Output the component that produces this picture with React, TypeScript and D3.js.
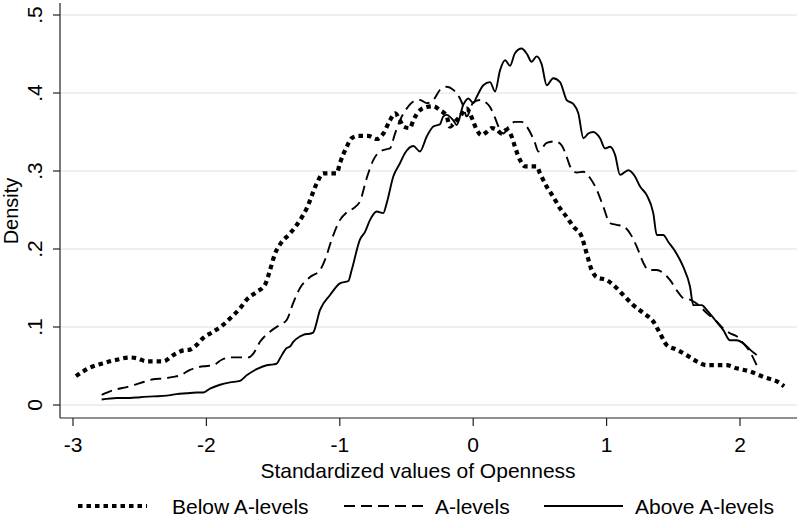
import React from "react";
import * as d3 from "d3";

// ---- data (standardized Openness value, density) ----
const belowX = [-2.978,-2.873,-2.785,-2.672,-2.573,-2.522,-2.448,-2.373,-2.323,-2.248,-2.173,-2.123,-2.073,-2.023,-1.948,-1.873,-1.823,-1.748,-1.698,-1.623,-1.561,-1.523,-1.486,-1.448,-1.373,-1.298,-1.248,-1.173,-1.124,-1.073,-1.023,-0.999,-0.948,-0.911,-0.861,-0.786,-0.723,-0.674,-0.624,-0.586,-0.549,-0.524,-0.474,-0.449,-0.399,-0.349,-0.299,-0.249,-0.199,-0.174,-0.136,-0.099,-0.049,-0.024,0.001,0.026,0.064,0.101,0.139,0.176,0.214,0.251,0.289,0.313,0.351,0.388,0.438,0.476,0.501,0.551,0.600,0.651,0.701,0.750,0.813,0.851,0.888,0.926,1.001,1.050,1.125,1.200,1.275,1.350,1.400,1.450,1.525,1.600,1.675,1.750,1.825,1.900,1.975,2.075,2.175,2.300,2.330];
const belowY = [0.037,0.048,0.053,0.058,0.061,0.060,0.056,0.056,0.056,0.064,0.070,0.071,0.077,0.086,0.094,0.103,0.111,0.124,0.135,0.145,0.154,0.173,0.194,0.206,0.220,0.237,0.252,0.284,0.297,0.297,0.297,0.310,0.331,0.342,0.345,0.345,0.341,0.348,0.365,0.374,0.365,0.357,0.355,0.365,0.378,0.382,0.383,0.378,0.370,0.357,0.363,0.370,0.380,0.374,0.363,0.353,0.346,0.350,0.355,0.353,0.348,0.353,0.344,0.331,0.314,0.306,0.306,0.306,0.297,0.280,0.267,0.252,0.241,0.229,0.216,0.194,0.173,0.164,0.160,0.154,0.141,0.128,0.118,0.107,0.092,0.077,0.071,0.064,0.056,0.051,0.051,0.051,0.047,0.043,0.036,0.028,0.024];

const aX = [-2.785,-2.698,-2.597,-2.498,-2.398,-2.323,-2.248,-2.198,-2.123,-2.073,-1.998,-1.948,-1.885,-1.823,-1.748,-1.686,-1.648,-1.598,-1.523,-1.448,-1.398,-1.349,-1.298,-1.223,-1.148,-1.111,-1.061,-0.999,-0.948,-0.899,-0.849,-0.798,-0.749,-0.699,-0.648,-0.624,-0.586,-0.549,-0.499,-0.449,-0.399,-0.349,-0.299,-0.249,-0.199,-0.149,-0.099,-0.074,-0.049,0.001,0.051,0.101,0.126,0.164,0.189,0.226,0.264,0.313,0.363,0.401,0.426,0.463,0.488,0.514,0.551,0.613,0.663,0.701,0.726,0.776,0.826,0.876,0.926,0.976,1.026,1.076,1.126,1.176,1.226,1.276,1.313,1.376,1.426,1.476,1.526,1.575,1.625,1.675,1.750,1.825,1.875,1.925,1.975,2.025,2.075,2.125];
const aY = [0.013,0.019,0.023,0.028,0.033,0.034,0.036,0.038,0.045,0.048,0.050,0.051,0.058,0.061,0.061,0.061,0.066,0.081,0.094,0.103,0.109,0.131,0.150,0.164,0.173,0.186,0.212,0.237,0.247,0.252,0.261,0.291,0.314,0.325,0.328,0.329,0.348,0.365,0.380,0.389,0.391,0.387,0.391,0.404,0.408,0.404,0.393,0.383,0.370,0.388,0.391,0.387,0.382,0.368,0.357,0.348,0.357,0.363,0.363,0.357,0.350,0.336,0.325,0.329,0.336,0.338,0.333,0.318,0.306,0.298,0.299,0.291,0.276,0.254,0.233,0.231,0.229,0.220,0.203,0.182,0.173,0.173,0.169,0.160,0.147,0.137,0.135,0.130,0.118,0.107,0.098,0.092,0.088,0.079,0.068,0.051];

const aboveX = [-2.785,-2.672,-2.573,-2.498,-2.398,-2.298,-2.223,-2.148,-2.073,-2.023,-1.973,-1.898,-1.823,-1.748,-1.698,-1.623,-1.548,-1.498,-1.473,-1.448,-1.398,-1.373,-1.349,-1.298,-1.274,-1.211,-1.199,-1.148,-1.073,-0.999,-0.936,-0.911,-0.849,-0.811,-0.774,-0.723,-0.674,-0.648,-0.599,-0.549,-0.511,-0.449,-0.399,-0.349,-0.299,-0.249,-0.224,-0.199,-0.149,-0.124,-0.074,-0.036,0.001,0.026,0.076,0.126,0.164,0.201,0.239,0.276,0.313,0.363,0.403,0.438,0.476,0.513,0.551,0.600,0.651,0.701,0.750,0.788,0.826,0.863,0.900,0.951,0.988,1.026,1.063,1.101,1.163,1.213,1.251,1.301,1.350,1.376,1.425,1.463,1.525,1.575,1.625,1.650,1.713,1.750,1.813,1.875,1.925,1.975,2.025,2.075,2.125];
const aboveY = [0.007,0.009,0.009,0.010,0.011,0.012,0.014,0.015,0.016,0.016,0.021,0.026,0.029,0.031,0.038,0.046,0.051,0.052,0.053,0.060,0.073,0.075,0.081,0.088,0.090,0.092,0.093,0.122,0.141,0.156,0.159,0.173,0.212,0.222,0.237,0.248,0.246,0.259,0.293,0.310,0.323,0.332,0.325,0.344,0.357,0.360,0.370,0.372,0.365,0.359,0.385,0.393,0.387,0.395,0.410,0.414,0.402,0.429,0.442,0.435,0.451,0.457,0.450,0.440,0.447,0.437,0.410,0.419,0.414,0.391,0.386,0.374,0.342,0.348,0.350,0.342,0.329,0.331,0.321,0.295,0.301,0.293,0.280,0.269,0.246,0.218,0.218,0.209,0.194,0.177,0.152,0.128,0.128,0.122,0.109,0.096,0.083,0.083,0.079,0.071,0.064];

const xTicks = [-3, -2, -1, 0, 1, 2];
const yTicks = [0, 0.1, 0.2, 0.3, 0.4, 0.5];
const yTickLabels = ["0", ".1", ".2", ".3", ".4", ".5"];
const seriesNames = ["Below A-levels", "A-levels", "Above A-levels"];

const FONT = "'Liberation Sans', Arial, Helvetica, sans-serif";

export default function App() {
  const W = 800, H = 528;
  const plotLeft = 60, plotRight = 797, plotTop = 3, plotBottom = 418;
  const x = d3.scaleLinear().domain([-3, 2]).range([73, 740]);
  const y = d3.scaleLinear().domain([0, 0.5]).range([405, 15]);

  const line = d3.line<[number, number]>()
    .x(d => x(d[0]))
    .y(d => y(d[1]))
    .curve(d3.curveMonotoneX);

  const zip = (xs: number[], ys: number[]) => xs.map((v, i) => [v, ys[i]] as [number, number]);

  const styles = [
    { width: 4.2, dash: "4.5 4" },
    { width: 1.9, dash: "11 6" },
    { width: 1.9, dash: "" },
  ];
  const series = [zip(belowX, belowY), zip(aX, aY), zip(aboveX, aboveY)];

  const legendItems = [
    { x1: 78, x2: 147, tx: 172 },
    { x1: 344, x2: 423, tx: 435 },
    { x1: 544, x2: 623, tx: 635 },
  ];

  return (
    <svg width={W} height={H} style={{ display: "block", position: "absolute", left: 0, top: 0 }}>
      <rect x={0} y={0} width={W} height={H} fill="#fff" />
      {/* gridlines */}
      {yTicks.map((t, i) => (
        <line key={"g" + i} x1={plotLeft} x2={plotRight} y1={y(t)} y2={y(t)} stroke="#eaeaea" strokeWidth={1.5} />
      ))}
      {/* series */}
      {series.map((s, i) => (
        <path key={"s" + i} d={line(s) || ""} fill="none" stroke="#000"
          strokeWidth={styles[i].width} strokeDasharray={styles[i].dash || undefined}
          strokeLinejoin="round" />
      ))}
      {/* axes */}
      <line x1={plotLeft} x2={plotLeft} y1={plotTop} y2={plotBottom} stroke="#222" strokeWidth={1.2} />
      <line x1={plotLeft} x2={plotRight} y1={plotBottom} y2={plotBottom} stroke="#222" strokeWidth={1.2} />
      {yTicks.map((t, i) => (
        <g key={"yt" + i}>
          <line x1={plotLeft - 7} x2={plotLeft} y1={y(t)} y2={y(t)} stroke="#222" strokeWidth={1.2} />
          <text transform={`translate(42,${y(t)}) rotate(-90)`} textAnchor="middle"
            fontFamily={FONT} fontSize={21} fill="#000">{yTickLabels[i]}</text>
        </g>
      ))}
      {xTicks.map((t, i) => (
        <g key={"xt" + i}>
          <line x1={x(t)} x2={x(t)} y1={plotBottom} y2={plotBottom + 8} stroke="#222" strokeWidth={1.2} />
          <text x={x(t)} y={452} textAnchor="middle" fontFamily={FONT} fontSize={21} fill="#000">{t}</text>
        </g>
      ))}
      <text x={418} y={478} textAnchor="middle" fontFamily={FONT} fontSize={21} fill="#000">
        Standardized values of Openness
      </text>
      <text transform={`translate(18,211) rotate(-90)`} textAnchor="middle" fontFamily={FONT} fontSize={20} fill="#000">
        Density
      </text>
      {/* legend */}
      {legendItems.map((l, i) => (
        <g key={"l" + i}>
          <line x1={l.x1} x2={l.x2} y1={506} y2={506} stroke="#000" strokeWidth={styles[i].width}
            strokeDasharray={styles[i].dash || undefined} />
          <text x={l.tx} y={514} fontFamily={FONT} fontSize={21} fill="#000">{seriesNames[i]}</text>
        </g>
      ))}
    </svg>
  );
}
